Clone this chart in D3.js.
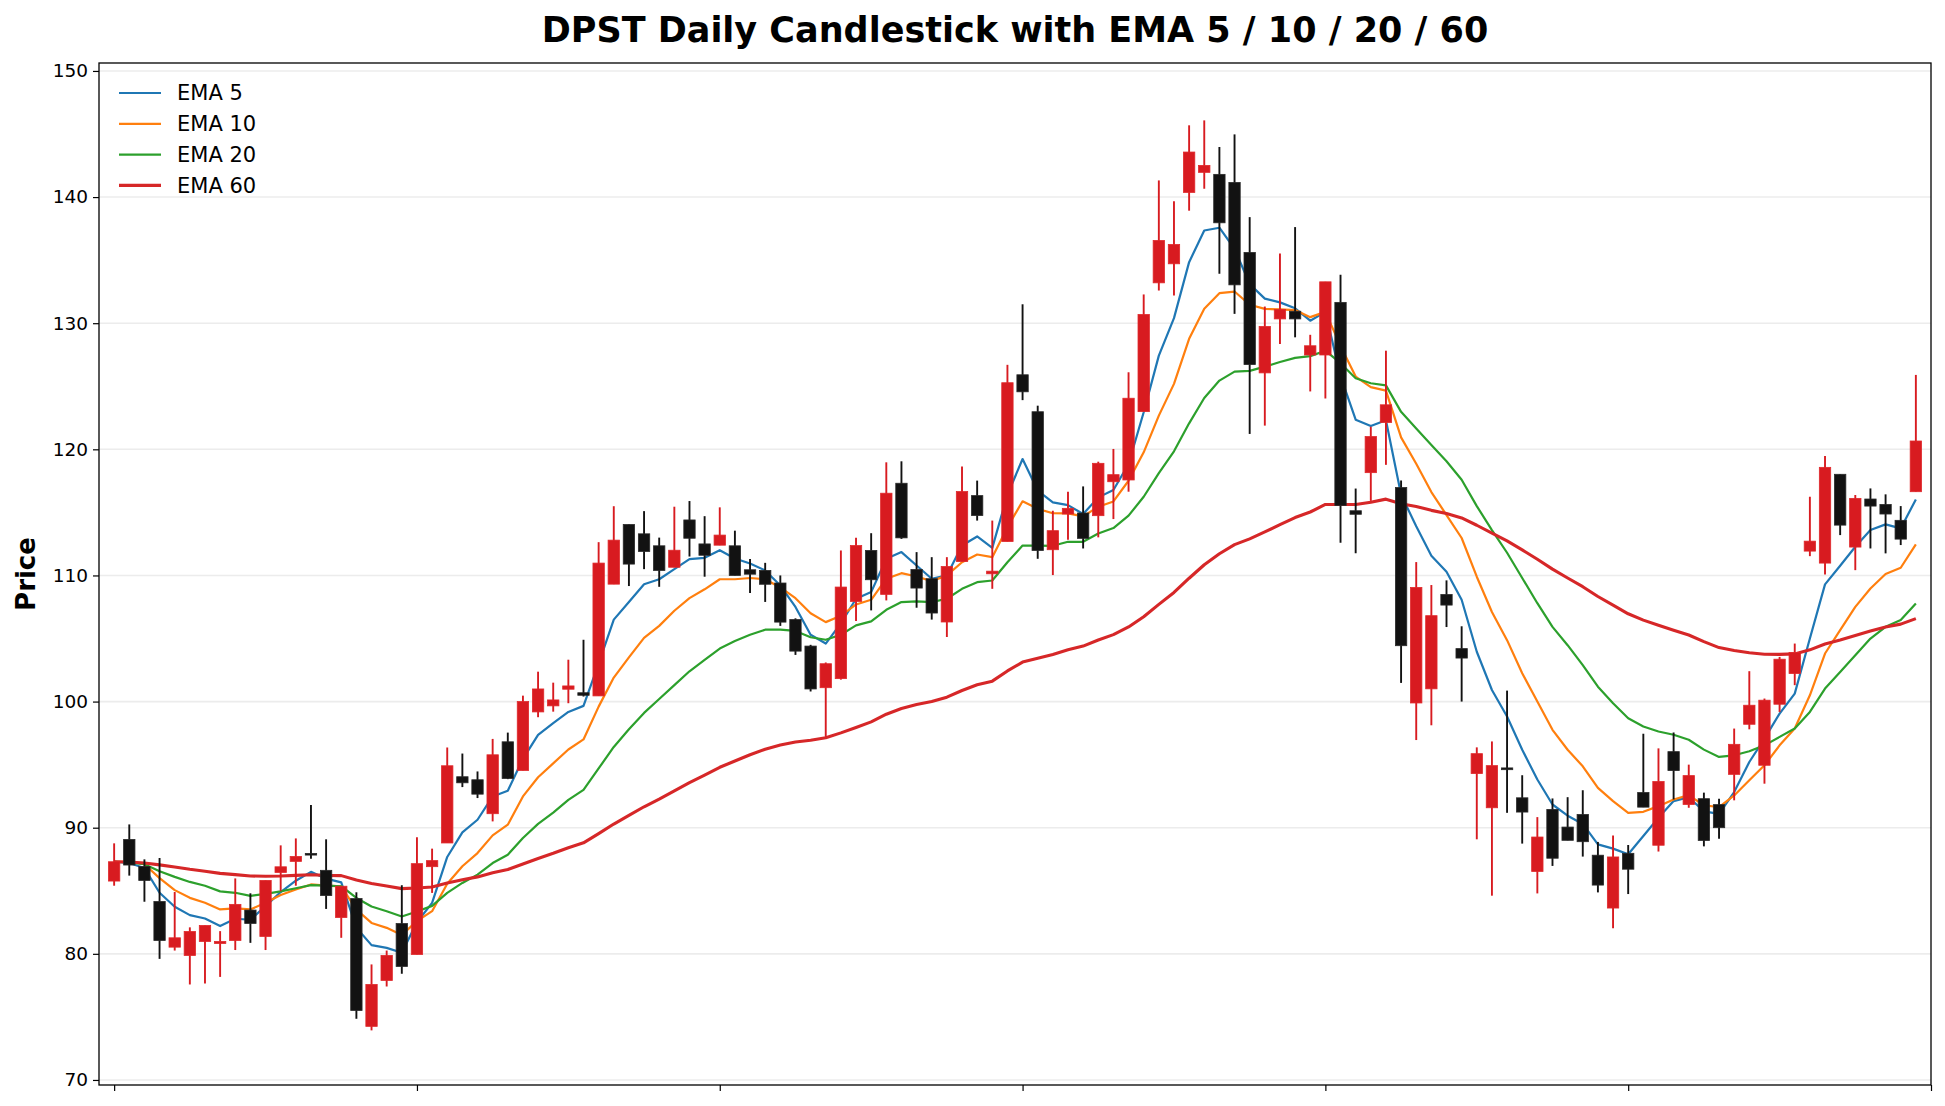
<!DOCTYPE html>
<html>
<head>
<meta charset="utf-8">
<script src="https://cdn.jsdelivr.net/npm/d3@7"></script>
<style>
  body { margin: 0; background: #fff; font-family: "DejaVu Sans", sans-serif; }
  .grid-line { stroke: #ececec; stroke-width: 1.6; }
  .axis text { font-family: "DejaVu Sans", sans-serif; font-size: 18.5px; fill: #000; }
  .axis line, .axis path { stroke: #000; stroke-width: 1.2; }
</style>
</head>
<body>
<svg id="chart" width="1945" height="1106"></svg>
<script>
// daily prices, one entry per trading day (120 days)
const openP = [
  85.77, 89.07, 86.93, 84.15, 80.53, 79.87, 80.98, 80.82, 81.06, 83.47,
  81.38, 86.45, 87.33, 87.96, 86.62, 82.88, 84.38, 74.25, 77.89, 82.40,
  79.95, 86.91, 88.79, 94.04, 93.80, 91.11, 96.81, 94.54, 99.18, 99.66,
  100.98, 100.70, 100.45, 109.31, 114.04, 113.30, 112.35, 110.65, 114.40, 112.50,
  112.40, 112.35, 110.45, 110.40, 109.40, 106.50, 104.40, 101.10, 101.82, 107.94,
  111.98, 108.50, 117.31, 110.47, 109.74, 106.31, 111.10, 116.33, 110.13, 112.69,
  125.91, 122.98, 112.04, 114.87, 114.95, 114.74, 117.43, 117.57, 122.99, 133.20,
  134.71, 140.37, 141.96, 141.80, 141.16, 135.61, 126.06, 130.34, 130.95, 127.48,
  127.48, 131.65, 115.13, 118.15, 122.13, 116.97, 99.89, 101.01, 108.49, 104.20,
  94.29, 91.58, 94.74, 92.37, 86.53, 91.45, 90.05, 91.05, 87.82, 83.63,
  87.97, 92.79, 88.61, 96.03, 91.84, 92.30, 91.83, 94.23, 98.20, 94.95,
  99.79, 102.22, 111.93, 110.98, 118.02, 112.25, 116.06, 115.63, 114.37, 116.64
];
const highP = [
  88.76, 90.26, 87.49, 87.60, 84.90, 82.10, 82.25, 81.80, 85.98, 84.80,
  85.82, 88.60, 89.15, 91.80, 89.08, 85.36, 84.88, 79.16, 80.26, 85.44,
  89.24, 88.34, 96.36, 95.88, 94.46, 97.04, 97.54, 100.47, 102.37, 101.50,
  103.32, 104.90, 112.64, 115.49, 114.04, 115.10, 113.00, 115.45, 115.90, 114.70,
  115.40, 113.55, 111.30, 111.00, 110.00, 106.60, 104.50, 103.10, 111.98, 112.98,
  113.35, 118.97, 119.05, 111.85, 111.45, 111.45, 118.63, 117.52, 114.35, 126.70,
  131.50, 123.46, 115.13, 116.64, 117.06, 119.02, 120.03, 126.11, 132.28, 141.32,
  139.66, 145.69, 146.08, 143.97, 144.97, 138.41, 131.32, 135.52, 137.62, 129.08,
  133.28, 133.84, 116.89, 121.79, 127.82, 117.53, 111.06, 109.24, 109.61, 105.97,
  96.37, 96.84, 100.87, 94.16, 90.84, 92.32, 92.42, 92.97, 88.87, 89.39,
  88.63, 97.45, 96.29, 97.55, 95.00, 92.78, 92.30, 97.86, 102.41, 100.24,
  103.54, 104.60, 116.24, 119.47, 118.02, 116.38, 116.90, 116.43, 115.50, 125.90
];
const lowP = [
  85.40, 86.20, 84.13, 79.60, 80.26, 77.57, 77.65, 78.17, 80.30, 80.87,
  80.30, 84.97, 85.40, 87.54, 83.56, 81.27, 74.85, 73.93, 77.41, 78.42,
  79.95, 84.83, 88.79, 93.22, 92.35, 90.50, 93.85, 94.54, 98.76, 99.20,
  99.87, 100.40, 100.45, 109.31, 109.16, 110.50, 109.10, 110.65, 111.50, 109.90,
  112.40, 110.00, 108.60, 107.90, 106.00, 103.70, 100.80, 97.20, 101.74, 106.38,
  107.23, 108.02, 112.90, 107.44, 106.50, 105.12, 111.10, 114.35, 108.94, 112.69,
  123.90, 111.32, 110.03, 112.83, 112.14, 113.02, 114.47, 116.64, 122.99, 132.59,
  132.20, 138.92, 140.66, 133.92, 130.74, 121.22, 121.88, 128.35, 128.88, 124.59,
  124.03, 112.60, 111.76, 115.91, 118.77, 101.48, 96.95, 98.12, 105.91, 100.00,
  89.08, 84.61, 91.18, 88.74, 84.79, 86.97, 89.00, 87.71, 84.87, 82.03,
  84.74, 91.63, 88.11, 92.24, 91.58, 88.52, 89.13, 92.17, 97.80, 93.49,
  99.18, 101.30, 111.53, 110.08, 113.20, 110.42, 112.14, 111.75, 112.41, 116.64
];
const closeP = [
  87.30, 87.04, 85.82, 81.06, 81.27, 81.77, 82.25, 80.98, 83.92, 82.41,
  85.82, 86.90, 87.72, 87.83, 84.62, 85.36, 75.51, 77.57, 79.87, 79.00,
  87.15, 87.39, 94.91, 93.56, 92.66, 95.78, 93.90, 100.00, 101.00, 100.13,
  101.24, 100.50, 110.98, 112.80, 110.90, 111.90, 110.40, 112.00, 112.95, 111.60,
  113.20, 110.00, 110.10, 109.30, 106.30, 104.00, 101.00, 103.00, 109.08, 112.37,
  109.66, 116.52, 112.98, 109.00, 107.02, 110.71, 116.65, 114.75, 110.34, 125.28,
  124.56, 111.98, 113.55, 115.32, 112.94, 118.89, 117.99, 124.05, 130.69, 136.56,
  136.24, 143.57, 142.51, 137.96, 133.04, 126.72, 129.74, 131.09, 130.34, 128.21,
  133.28, 115.55, 114.85, 121.01, 123.53, 104.43, 109.05, 106.81, 107.65, 103.45,
  95.87, 94.92, 94.60, 91.24, 89.26, 87.58, 89.00, 88.89, 85.45, 87.68,
  86.71, 91.63, 93.66, 94.53, 94.13, 88.99, 90.00, 96.61, 99.71, 100.11,
  103.36, 103.89, 112.72, 118.57, 113.99, 116.11, 115.50, 114.87, 112.88, 120.66
];

// moving averages
const ema5 = [
  87.3, 87.2, 86.8, 84.84, 83.73, 83.07, 82.8, 82.2, 82.78, 82.7,
  83.78, 84.9, 85.8, 86.5, 85.96, 85.67, 82.06, 80.69, 80.47, 80.08,
  82.5, 84.04, 87.68, 89.63, 90.63, 92.48, 92.93, 95.46, 97.36, 98.3,
  99.18, 99.66, 103.0, 106.5, 107.9, 109.3, 109.7, 110.5, 111.3, 111.4,
  112.0, 111.35, 110.95, 110.4, 109.2, 107.5, 105.3, 104.6, 106.2, 108.15,
  108.68, 111.32, 111.85, 110.79, 109.74, 110.0, 112.37, 113.09, 112.19, 116.4,
  119.23, 116.73, 115.8, 115.58, 114.87, 116.19, 116.77, 118.84, 122.94, 127.43,
  130.4, 134.84, 137.35, 137.57, 135.9, 133.1, 131.95, 131.65, 131.18, 130.2,
  130.9, 125.8, 122.35, 121.85, 122.3, 116.4, 113.9, 111.57, 110.3, 108.07,
  103.95, 100.92, 98.82, 96.18, 93.82, 91.84, 90.95, 90.3, 88.68, 88.34,
  87.89, 89.34, 90.79, 92.11, 92.42, 91.3, 91.1, 92.83, 95.21, 97.06,
  99.05, 100.63, 105.0, 109.29, 110.77, 112.28, 113.6, 114.05, 113.73, 116.03
];
const ema10 = [
  87.3, 87.3, 87.1, 86.0, 85.05, 84.44, 84.05, 83.52, 83.6, 83.52,
  84.05, 84.66, 85.1, 85.5, 85.4, 85.35, 83.5, 82.45, 82.06, 81.5,
  82.59, 83.38, 85.55, 86.94, 87.99, 89.39, 90.24, 92.48, 94.0, 95.1,
  96.2, 97.0, 99.6, 101.9, 103.5, 105.05, 106.0, 107.2, 108.2, 108.9,
  109.7, 109.7, 109.8, 109.7, 109.05, 108.2, 107.0, 106.3, 106.8, 107.7,
  108.07, 109.74, 110.18, 109.92, 109.55, 110.0, 111.05, 111.66, 111.45, 113.83,
  115.88, 115.28, 114.93, 114.92, 114.68, 115.45, 115.87, 117.51, 119.76, 122.67,
  125.19, 128.76, 131.14, 132.38, 132.51, 131.46, 131.14, 131.09, 131.04, 130.48,
  130.9, 128.2, 125.77, 124.93, 124.65, 120.95, 118.85, 116.61, 114.79, 112.97,
  109.9, 107.1, 104.87, 102.24, 100.0, 97.76, 96.18, 94.87, 93.16, 92.11,
  91.18, 91.26, 91.71, 92.24, 92.58, 91.77, 91.64, 92.56, 93.76, 94.95,
  96.53, 97.86, 100.5, 103.81, 105.66, 107.51, 108.97, 110.11, 110.61, 112.46
];
const ema20 = [
  87.3, 87.25, 87.1, 86.55, 86.1, 85.7, 85.4, 84.95, 84.84, 84.6,
  84.75, 84.95, 85.2, 85.45, 85.4, 85.36, 84.43, 83.75, 83.38, 82.96,
  83.36, 83.8, 84.83, 85.62, 86.28, 87.2, 87.86, 89.18, 90.3, 91.2,
  92.2, 93.0, 94.7, 96.4, 97.8, 99.1, 100.2, 101.3, 102.4, 103.3,
  104.2, 104.8, 105.3, 105.7, 105.7, 105.6, 105.1, 104.9, 105.3, 106.04,
  106.36, 107.28, 107.89, 107.94, 107.89, 108.15, 108.94, 109.47, 109.6, 111.05,
  112.37, 112.37, 112.35, 112.67, 112.67, 113.33, 113.76, 114.74, 116.24, 118.12,
  119.84, 122.06, 124.07, 125.45, 126.16, 126.22, 126.56, 126.92, 127.25, 127.39,
  127.82, 126.83, 125.63, 125.24, 125.07, 122.97, 121.65, 120.34, 119.05, 117.59,
  115.5, 113.6, 111.8, 109.8, 107.8, 105.92, 104.47, 102.89, 101.18, 99.87,
  98.68, 98.03, 97.63, 97.37, 96.97, 96.19, 95.61, 95.74, 96.06, 96.53,
  97.2, 97.86, 99.18, 101.03, 102.35, 103.68, 105.0, 105.93, 106.46, 107.78
];
const ema60 = [
  87.3, 87.28, 87.2, 87.05, 86.88, 86.7, 86.55, 86.38, 86.28, 86.17,
  86.15, 86.17, 86.22, 86.27, 86.22, 86.2, 85.85, 85.58, 85.38, 85.17,
  85.22, 85.3, 85.62, 85.87, 86.1, 86.42, 86.68, 87.12, 87.56, 87.97,
  88.41, 88.8, 89.53, 90.29, 90.97, 91.66, 92.27, 92.92, 93.58, 94.17,
  94.79, 95.29, 95.78, 96.22, 96.55, 96.8, 96.94, 97.13, 97.52, 97.95,
  98.39, 99.0, 99.45, 99.76, 100.0, 100.35, 100.88, 101.33, 101.62, 102.43,
  103.13, 103.43, 103.74, 104.11, 104.4, 104.88, 105.31, 105.92, 106.73, 107.71,
  108.65, 109.78, 110.85, 111.72, 112.44, 112.9, 113.45, 114.03, 114.59, 115.03,
  115.63, 115.63, 115.62, 115.81, 116.05, 115.69, 115.47, 115.16, 114.92, 114.56,
  113.98, 113.35, 112.74, 112.03, 111.28, 110.5, 109.8, 109.11, 108.33, 107.65,
  106.96, 106.46, 106.05, 105.66, 105.28, 104.75, 104.28, 104.05, 103.87, 103.75,
  103.74, 103.78, 104.1, 104.56, 104.88, 105.23, 105.6, 105.92, 106.14, 106.58
];

const yTicks = [70, 80, 90, 100, 110, 120, 130, 140, 150];
const xTicks = [0, 20, 40, 60, 80, 100, 120];
const seriesNames = ["EMA 5", "EMA 10", "EMA 20", "EMA 60"];
const seriesColors = ["#1f77b4", "#ff7f0e", "#2ca02c", "#d62728"];

const UP_COLOR = "#d81b20";
const DOWN_COLOR = "#121212";

const MARGIN = { top: 63, right: 14, bottom: 21, left: 99 };
const W = 1945, H = 1106;
const chartWidth = W - MARGIN.left - MARGIN.right;
const chartHeight = H - MARGIN.top - MARGIN.bottom;

const candles = openP.map((o, i) => ({
  i, open: o, high: highP[i], low: lowP[i], close: closeP[i]
}));
const emaData = [ema5, ema10, ema20, ema60].map((vals, k) => ({
  name: seriesNames[k], color: seriesColors[k], values: vals,
  width: k === 3 ? 3.1 : 2.2
}));

const svg = d3.select("#chart");
const g = svg.append("g").attr("transform", `translate(${MARGIN.left},${MARGIN.top})`);

const xScale = d3.scaleLinear().domain([-1, 120]).range([0, chartWidth]);
const yScale = d3.scaleLinear().domain([69.6, 150.63]).range([chartHeight, 0]);

// horizontal grid
g.append("g")
  .selectAll("line")
  .data(yTicks)
  .join("line")
  .attr("class", "grid-line")
  .attr("x1", 0).attr("x2", chartWidth)
  .attr("y1", d => yScale(d)).attr("y2", d => yScale(d));

// EMA lines (drawn under the candles)
const line = d3.line()
  .x((v, i) => xScale(i))
  .y(v => yScale(v));

g.append("g")
  .selectAll("path")
  .data(emaData)
  .join("path")
  .attr("fill", "none")
  .attr("stroke", d => d.color)
  .attr("stroke-width", d => d.width)
  .attr("stroke-linejoin", "round")
  .attr("d", d => line(d.values));

// candles
const step = xScale(1) - xScale(0);
const bodyW = step * 0.75;
const cg = g.append("g");

cg.selectAll(".wick")
  .data(candles)
  .join("line")
  .attr("class", "wick")
  .attr("x1", d => xScale(d.i)).attr("x2", d => xScale(d.i))
  .attr("y1", d => yScale(d.high)).attr("y2", d => yScale(d.low))
  .attr("stroke", d => d.close >= d.open ? UP_COLOR : DOWN_COLOR)
  .attr("stroke-width", 1.9);

cg.selectAll(".body")
  .data(candles)
  .join("rect")
  .attr("class", "body")
  .attr("x", d => xScale(d.i) - bodyW / 2)
  .attr("width", bodyW)
  .attr("y", d => yScale(Math.max(d.open, d.close)))
  .attr("height", d => Math.max(1.5, Math.abs(yScale(d.open) - yScale(d.close))))
  .attr("fill", d => d.close >= d.open ? UP_COLOR : DOWN_COLOR)
  .attr("stroke", d => d.close >= d.open ? "#e0282b" : "#2a2a2a")
  .attr("stroke-width", 0.8);

// axes
g.append("g")
  .attr("class", "axis")
  .call(d3.axisLeft(yScale).tickValues(yTicks).tickSize(6).tickPadding(5))
  .call(a => a.select(".domain").remove());

g.append("g")
  .attr("class", "axis")
  .attr("transform", `translate(0,${chartHeight})`)
  .call(d3.axisBottom(xScale).tickValues(xTicks).tickSize(6).tickFormat(""))
  .call(a => a.select(".domain").remove());

// frame
g.append("rect")
  .attr("width", chartWidth).attr("height", chartHeight)
  .attr("fill", "none").attr("stroke", "#000").attr("stroke-width", 1.3);

// legend
const legend = g.append("g").attr("transform", "translate(20,30)");
emaData.forEach((d, k) => {
  const row = legend.append("g").attr("transform", `translate(0,${k * 30.8})`);
  row.append("line")
    .attr("x1", 0).attr("x2", 42)
    .attr("stroke", d.color).attr("stroke-width", d.width);
  row.append("text")
    .attr("x", 58).attr("y", 0).attr("dy", "0.35em")
    .style("font-size", "21px")
    .text(d.name);
});

// title and y label
svg.append("text")
  .attr("x", MARGIN.left + chartWidth / 2).attr("y", 42)
  .attr("text-anchor", "middle")
  .style("font-size", "35px").style("font-weight", "bold")
  .text("DPST Daily Candlestick with EMA 5 / 10 / 20 / 60");

svg.append("text")
  .attr("transform", `translate(35,${MARGIN.top + chartHeight / 2}) rotate(-90)`)
  .attr("text-anchor", "middle")
  .style("font-size", "26px").style("font-weight", "bold")
  .text("Price");
</script>
</body>
</html>
